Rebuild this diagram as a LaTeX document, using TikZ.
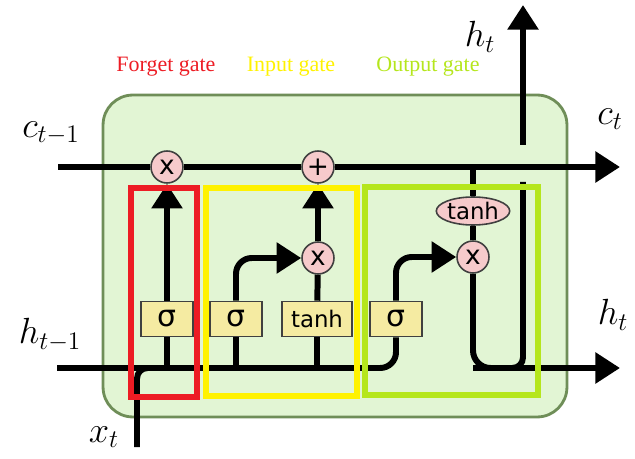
\documentclass[tikz,border=0pt]{standalone}
\usepackage{fontspec}
\usetikzlibrary{arrows.meta, shapes.geometric}
\newfontfamily\gatefont{Liberation Serif}
\newfontfamily\unitfont{DejaVu Sans}
\definecolor{cellFill}{HTML}{E2F5D4}
\definecolor{cellEdge}{HTML}{6F8E58}
\definecolor{opPink}{HTML}{F6CACB}
\definecolor{actYellow}{HTML}{F5EBA2}
\definecolor{edgeGray}{HTML}{404040}
\definecolor{forgetRed}{HTML}{ED1C24}
\definecolor{inputYellow}{HTML}{FFF200}
\definecolor{outputLime}{HTML}{B5E61D}
\tikzset{
  cellbox/.style={draw=cellEdge, fill=cellFill, line width=1.6pt, rounded corners=17pt, minimum width=9.28cm, minimum height=6.44cm},
  opnode/.style={circle, draw=edgeGray, fill=opPink, line width=0.9pt, minimum size=0.64cm, inner sep=0pt, font=\unitfont\fontsize{15}{15}\selectfont},
  actbox/.style={draw=edgeGray, fill=actYellow, line width=0.9pt, minimum width=1.04cm, minimum height=0.7cm, inner sep=0pt, font=\unitfont\fontsize{17}{17}\selectfont},
  tanhoval/.style={ellipse, draw=edgeGray, fill=opPink, line width=0.9pt, minimum width=1.44cm, minimum height=0.56cm, inner sep=0pt, font=\unitfont\fontsize{13}{13}\selectfont},
  flowline/.style={line width=3.4pt},
  flowarr/.style={flowline, -{Triangle[length=14pt, width=17pt]}},
  gateframe/.style={line width=3.7pt},
  gatetitle/.style={font=\gatefont\fontsize{12.5}{14}\selectfont},
  mathlabel/.style={font=\fontsize{22}{26}\selectfont},
}
\begin{document}
\begin{tikzpicture}[x=0.02cm, y=-0.02cm]
  \useasboundingbox (0,0) rectangle (635,459);
  % cell body
  \node[cellbox] (cell) at (335,256) {};
  % operations and layers
  \node[opnode] (fx) at (167,167) {x};
  \node[opnode] (px) at (318,167) {+};
  \node[opnode] (ix) at (318,258) {x};
  \node[opnode] (ox) at (473,257) {x};
  \node[tanhoval] (th) at (473,211) {tanh};
  \node[actbox] (fsig) at (167,319) {σ};
  \node[actbox] (isig) at (236,319) {σ};
  \node[actbox, minimum width=1.4cm, font=\unitfont\fontsize{13}{13}\selectfont] (tbox) at (317,319) {tanh};
  \node[actbox] (osig) at (396,319) {σ};
  % free ends
  \coordinate (cin) at (58,167);
  \coordinate (cout) at (620,167);
  \coordinate (hin) at (57,368);
  \coordinate (hout) at (620,368);
  \coordinate (xin) at (137,447);
  \coordinate (hjoin) at (523,182);
  \coordinate (hbase) at (523,145);
  \coordinate (htop) at (523,5);
  % cell state
  \draw[flowline] (cin) -- (fx);
  \draw[flowline] (fx) -- (px);
  \draw[flowarr] (px) -- (cout);
  % hidden state and input
  \draw[flowline, rounded corners=9pt] (hin) -| (osig);
  \draw[flowline, rounded corners=6pt] (xin) |- (fsig.south |- hin);
  \draw[flowline] (fsig.south |- hin) -- (fsig);
  \draw[flowline] (isig.south |- hin) -- (isig);
  \draw[flowline] (tbox.south |- hin) -- (tbox);
  % gates
  \draw[flowarr] (fsig) -- (fx);
  \draw[flowarr, rounded corners=9pt] (isig.north) |- (ix.west);
  \draw[flowline] (tbox) -- (ix);
  \draw[flowarr] (ix) -- (px);
  \draw[flowarr, rounded corners=9pt] (osig.north) |- (ox.west);
  \draw[flowline] (th.north |- cin) -- (th);
  \draw[flowline] (th) -- (ox);
  \draw[flowarr, rounded corners=10pt] (ox.south) |- (hout);
  \draw[flowline, rounded corners=6pt] (hjoin) |- (ox.south |- hout);
  \draw[flowarr] (hbase) -- (htop);
  % gate frames
  \draw[gateframe, forgetRed] (131,188) rectangle (197,397);
  \draw[gateframe, inputYellow] (206,188) rectangle (357,396);
  \draw[gateframe, outputLime] (365,187) rectangle (538,395);
  \node[gatetitle, text=forgetRed] (tforget) at (166,67) {Forget gate};
  \node[gatetitle, text=inputYellow] (tinput) at (291,67) {Input gate};
  \node[gatetitle, text=outputLime] (toutput) at (428,67) {Output gate};
  % labels
  \node[mathlabel] (lcin) at (51,133) {$c_{t-1}$};
  \node[mathlabel] (lhin) at (50,335) {$h_{t-1}$};
  \node[mathlabel] (lxin) at (104,437) {$x_t$};
  \node[mathlabel] (lhtop) at (480,37) {$h_t$};
  \node[mathlabel] (lcout) at (610,119) {$c_t$};
  \node[mathlabel] (lhout) at (613,315) {$h_t$};
\end{tikzpicture}
\end{document}
